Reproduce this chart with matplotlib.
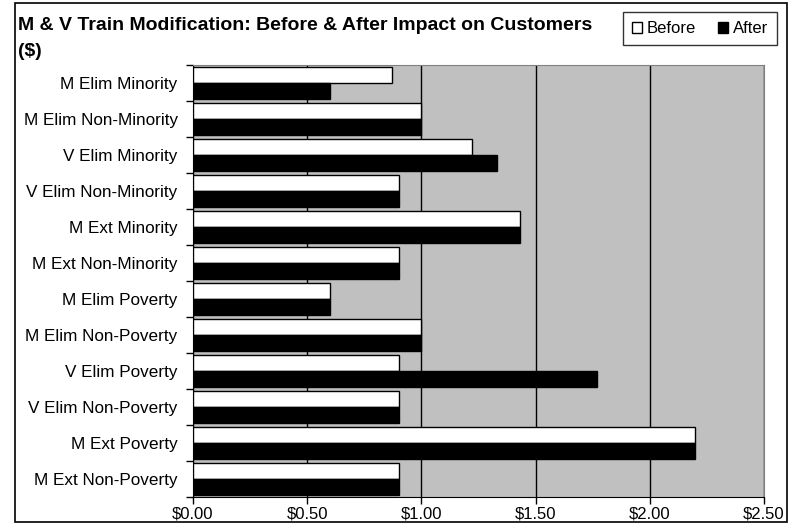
import numpy as np
import matplotlib
matplotlib.use('Agg')
import matplotlib.pyplot as plt
from matplotlib.patches import Patch, Rectangle
from matplotlib.ticker import FuncFormatter

plt.rcParams['font.family'] = ['Liberation Sans', 'DejaVu Sans']

categories = ['M Elim Minority', 'M Elim Non-Minority', 'V Elim Minority',
              'V Elim Non-Minority', 'M Ext Minority', 'M Ext Non-Minority',
              'M Elim Poverty', 'M Elim Non-Poverty', 'V Elim Poverty',
              'V Elim Non-Poverty', 'M Ext Poverty', 'M Ext Non-Poverty']
before = [0.87, 1.00, 1.22, 0.90, 1.43, 0.90, 0.60, 1.00, 0.90, 0.90, 2.20, 0.90]
after = [0.60, 1.00, 1.33, 0.90, 1.43, 0.90, 0.60, 1.00, 1.77, 0.90, 2.20, 0.90]
x_ticks = [0, 0.5, 1.0, 1.5, 2.0, 2.5]

W, H = 797, 525
fig = plt.figure(figsize=(W / 100, H / 100), dpi=100)
ax = fig.add_axes([193 / W, 1 - 497 / H, (764 - 193) / W, (497 - 65) / H])

# outer chart border
fig.patches.append(Rectangle((15 / W, 3 / H), (787 - 15) / W, (522 - 3) / H,
                             transform=fig.transFigure, fill=False,
                             edgecolor='black', linewidth=1.2))

ax.set_facecolor('#c0c0c0')
y = np.arange(len(categories))
h = 0.45
ax.barh(y - h / 2, before, height=h, color='white', edgecolor='black', linewidth=1, zorder=3)
ax.barh(y + h / 2, after, height=h, color='black', edgecolor='black', linewidth=1, zorder=3)

ax.set_xlim(0, 2.5)
ax.set_ylim(len(categories) - 0.5, -0.5)
ax.set_xticks(x_ticks)
ax.xaxis.set_major_formatter(FuncFormatter(lambda v, p: '${:.2f}'.format(v)))
ax.xaxis.grid(True, color='black', linewidth=1)
ax.set_axisbelow(True)

ax.set_yticks(y)
ax.set_yticklabels(categories)
ax.set_yticks(np.arange(len(categories) + 1) - 0.5, minor=True)
ax.tick_params(axis='y', which='major', length=0, pad=11, labelsize=12.3)
ax.tick_params(axis='y', which='minor', length=5, direction='out', width=1)
ax.tick_params(axis='x', length=5, width=1, labelsize=12, pad=1.5)

for s in ['top', 'right']:
    ax.spines[s].set_color('#808080')
for s in ['left', 'bottom']:
    ax.spines[s].set_color('black')

fig.text(18 / W, 1 - 25 / H, 'M & V Train Modification: Before & After Impact on Customers',
         fontsize=14, fontweight='bold', va='center', ha='left')
fig.text(18 / W, 1 - 51 / H, '($)', fontsize=14, fontweight='bold', va='center', ha='left')

handles = [Patch(facecolor='white', edgecolor='black', label='Before'),
           Patch(facecolor='black', edgecolor='black', label='After')]
leg = fig.legend(handles=handles, ncol=2, loc='upper right',
                 bbox_to_anchor=(777 / W, 1 - 12 / H), fontsize=12,
                 frameon=True, fancybox=False, edgecolor='black',
                 handlelength=0.6, handleheight=0.6, handletextpad=0.3,
                 columnspacing=1.3, borderpad=0.55, borderaxespad=0)
leg.get_frame().set_linewidth(1)

fig.savefig('out.png', dpi=100)
